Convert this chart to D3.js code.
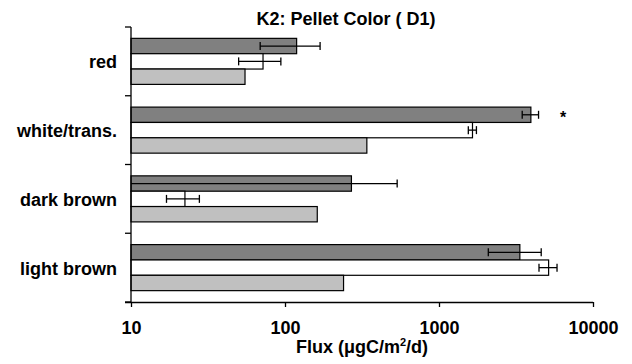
<!DOCTYPE html>
<html><head><meta charset="utf-8">
<script src="https://cdn.jsdelivr.net/npm/d3@7"></script>
<style>
html,body{margin:0;padding:0;background:#fff;}
svg{display:block;font-family:"Liberation Sans",Arial,sans-serif;font-weight:bold;}
</style></head>
<body><svg id="chart" width="632" height="364"></svg>
<script>
const categories = ["red", "white/trans.", "dark brown", "light brown"];
const seriesKeys = ["dark", "white", "light"];
const darkValues = [119, 3950, 270, 3350];
const darkErrors = [50, 480, 265, 1260];
const whiteValues = [72, 1650, 22.4, 5150];
const whiteErrors = [22, 100, 5.4, 690];
const lightValues = [55, 340, 162, 240];
const lightErrors = [null, null, null, null];
const tickValues = [10, 100, 1000, 10000];
const annotations = [{category: "white/trans.", series: "dark", x: 6400, text: "*"}];
const seriesColors = {dark: "#808080", white: "#ffffff", light: "#c0c0c0"};

const values = {dark: darkValues, white: whiteValues, light: lightValues};
const errors = {dark: darkErrors, white: whiteErrors, light: lightErrors};

const margin = {top: 27, right: 39, bottom: 62, left: 131};
const W = 632, H = 364;
const FS = "18px";
const svg = d3.select("#chart");

const x = d3.scaleLog().domain([10, 10000]).range([margin.left, W - margin.right]);
const y = d3.scaleBand().domain(categories).range([margin.top, H - margin.bottom]).padding(0);
const ys = d3.scaleBand().domain(seriesKeys).range([0, y.bandwidth()]).paddingInner(0).paddingOuter(0.74);

const data = [];
categories.forEach((c, i) => seriesKeys.forEach(k => data.push({c, k, v: values[k][i], e: errors[k][i]})));

// bars
svg.append("g").selectAll("rect").data(data).join("rect")
  .attr("x", x(10))
  .attr("y", d => y(d.c) + ys(d.k))
  .attr("width", d => x(d.v) - x(10))
  .attr("height", ys.bandwidth())
  .attr("fill", d => seriesColors[d.k])
  .attr("stroke", "#000").attr("stroke-width", 1.2);

// error bars
const eb = svg.append("g").attr("stroke", "#000").attr("stroke-width", 1.3);
data.filter(d => d.e != null).forEach(d => {
  const cy = y(d.c) + ys(d.k) + ys.bandwidth() / 2;
  const lo = d.v - d.e, hi = d.v + d.e;
  const x0 = lo > 10 ? x(lo) : x(10), x1 = x(hi);
  eb.append("line").attr("x1", x0).attr("x2", x1).attr("y1", cy).attr("y2", cy);
  if (lo > 10) eb.append("line").attr("x1", x0).attr("x2", x0).attr("y1", cy - 4).attr("y2", cy + 4);
  eb.append("line").attr("x1", x1).attr("x2", x1).attr("y1", cy - 4).attr("y2", cy + 4);
});

// x axis
const xAxis = d3.axisBottom(x).tickValues(tickValues).tickFormat(d3.format("d")).tickSize(5).tickSizeOuter(0);
const gx = svg.append("g").attr("transform", `translate(0,${H - margin.bottom})`).call(xAxis);
gx.attr("font-family", null).attr("font-size", null);
gx.select(".domain").attr("d", `M${margin.left - 6},0.5H${W - margin.right}`).attr("stroke", "#000").attr("stroke-width", 1.3);
gx.selectAll(".tick line").attr("stroke", "#000").attr("stroke-width", 1.3);
gx.selectAll(".tick text").attr("font-size", FS).attr("font-weight", "bold").attr("fill", "#000")
  .attr("y", 0).attr("dy", null).attr("transform", "translate(0,32)");

// y axis: line with category boundary ticks
const gy = svg.append("g").attr("stroke", "#000").attr("stroke-width", 1.3);
gy.append("line").attr("x1", margin.left).attr("x2", margin.left).attr("y1", margin.top).attr("y2", H - margin.bottom);
const bounds = categories.map(c => y(c)).concat([y.range()[1]]);
gy.selectAll("line.tk").data(bounds).join("line").attr("class", "tk")
  .attr("x1", margin.left - 6).attr("x2", margin.left).attr("y1", d => d).attr("y2", d => d);

// category labels
svg.append("g").selectAll("text").data(categories).join("text")
  .attr("x", 117).attr("y", d => y(d) + y.bandwidth() / 2 + 7)
  .attr("text-anchor", "end").attr("font-size", FS).text(d => d);

// annotations
svg.append("g").selectAll("text").data(annotations).join("text")
  .attr("x", d => x(d.x)).attr("y", d => y(d.category) + ys(d.series) + ys.bandwidth() / 2 + 8)
  .attr("text-anchor", "middle").attr("font-size", "16px").text(d => d.text);

// title
svg.append("text").attr("x", 346).attr("y", 25).attr("text-anchor", "middle")
  .attr("font-size", FS).text("K2: Pellet Color ( D1)");

// x axis title
const xt = svg.append("text").attr("x", (margin.left + W - margin.right) / 2).attr("y", 353)
  .attr("text-anchor", "middle").attr("font-size", FS);
xt.append("tspan").text("Flux (μgC/m");
xt.append("tspan").attr("font-size", "11px").attr("dy", -7).text("2");
xt.append("tspan").attr("dy", 7).text("/d)");
</script></body></html>
